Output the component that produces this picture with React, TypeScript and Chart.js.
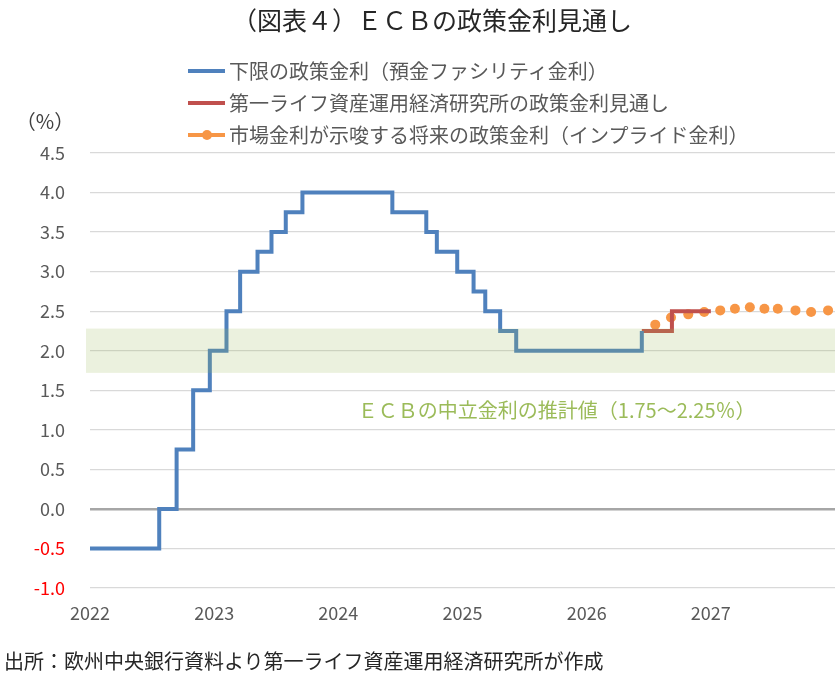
import React, { useEffect, useRef } from 'react';
import { Chart, registerables } from 'chart.js';

Chart.register(...registerables);

const FONT = "'Noto Sans CJK JP', 'Noto Sans', sans-serif";

const chartTitle = '（図表４）ＥＣＢの政策金利見通し';
const seriesNames = [
  '下限の政策金利（預金ファシリティ金利）',
  '第一ライフ資産運用経済研究所の政策金利見通し',
  '市場金利が示唆する将来の政策金利（インプライド金利）',
];
const seriesColors = ['#4F81BD', '#C0504D', '#F79646'];
const unitLabel = '（%）';
const sourceNote = '出所：欧州中央銀行資料より第一ライフ資産運用経済研究所が作成';
const yearLabels = ['2022', '2023', '2024', '2025', '2026', '2027'];

// x values: months elapsed since Jan 2022
const depositMonths = [0, 6.69, 8.37, 9.97, 11.58, 13.19, 14.51, 16.19, 17.54, 18.92, 20.53, 29.22, 32.5, 33.52, 35.49, 37.07, 38.2, 39.64, 41.19, 53.33];
const depositRates = [-0.5, 0, 0.75, 1.5, 2.0, 2.5, 3.0, 3.25, 3.5, 3.75, 4.0, 3.75, 3.5, 3.25, 3.0, 2.75, 2.5, 2.25, 2.0, 2.25];

const forecastMonths = [53.33, 56.24, 60.0];
const forecastRates = [2.25, 2.5, 2.5];

const impliedMonths = [54.63, 56.15, 57.82, 59.36, 60.91, 62.33, 63.77, 65.18, 66.47, 68.18, 69.69, 71.33];
const impliedRates = [2.33, 2.42, 2.46, 2.49, 2.51, 2.53, 2.55, 2.53, 2.53, 2.51, 2.49, 2.51];

const neutralLow = 1.72;
const neutralHigh = 2.28;
const neutralLabel = 'ＥＣＢの中立金利の推計値（1.75～2.25％）';
const neutralLabelMonth = 45.1;
const neutralLabelRate = 1.24;

const toPoints = (xs: number[], ys: number[]) => xs.map((x, i) => ({ x, y: ys[i] }));

const bandPlugin = {
  id: 'neutralBand',
  afterDatasetsDraw(chart: any) {
    const { ctx, chartArea, scales } = chart;
    const x = scales.x;
    const y = scales.y;
    const top = y.getPixelForValue(neutralHigh);
    const bot = y.getPixelForValue(neutralLow);
    ctx.save();
    ctx.fillStyle = 'rgba(155,187,89,0.2)';
    ctx.fillRect(chartArea.left - 4, top, chartArea.right - chartArea.left + 4, bot - top);
    ctx.fillStyle = '#9BBB59';
    ctx.font = `20px ${FONT}`;
    ctx.textAlign = 'center';
    ctx.textBaseline = 'middle';
    ctx.fillText(neutralLabel, x.getPixelForValue(neutralLabelMonth), y.getPixelForValue(neutralLabelRate));
    ctx.restore();
  },
};

export default function App() {
  const canvasRef = useRef<HTMLCanvasElement | null>(null);

  useEffect(() => {
    if (!canvasRef.current) return;
    const tickFont = { family: FONT, size: 18 };
    const chart = new Chart(canvasRef.current, {
      type: 'line',
      data: {
        datasets: [
          {
            label: seriesNames[0],
            data: toPoints(depositMonths, depositRates),
            borderColor: seriesColors[0],
            borderWidth: 4,
            stepped: 'before',
            pointRadius: 0,
            borderJoinStyle: 'miter',
            borderCapStyle: 'butt',
            fill: false,
          },
          {
            label: seriesNames[1],
            data: toPoints(forecastMonths, forecastRates),
            borderColor: seriesColors[1],
            borderWidth: 4,
            stepped: 'before',
            pointRadius: 0,
            borderJoinStyle: 'miter',
            borderCapStyle: 'butt',
            fill: false,
          },
          {
            label: seriesNames[2],
            data: toPoints(impliedMonths, impliedRates),
            showLine: false,
            pointRadius: 5,
            pointBackgroundColor: seriesColors[2],
            pointBorderWidth: 0,
            borderColor: seriesColors[2],
            backgroundColor: seriesColors[2],
          },
        ],
      },
      options: {
        animation: false,
        responsive: false,
        devicePixelRatio: 1,
        layout: { padding: { top: 153, right: 4, left: 0, bottom: 0 } },
        plugins: {
          legend: { display: false },
          tooltip: { enabled: false },
          title: { display: false },
        },
        scales: {
          x: {
            type: 'linear',
            min: 0,
            max: 72,
            border: { display: false },
            grid: { display: false, drawTicks: false },
            ticks: {
              stepSize: 12,
              padding: 14,
              autoSkip: false,
              maxRotation: 0,
              color: '#595959',
              font: tickFont,
              callback: (v: any) => yearLabels[Math.round(Number(v) / 12)] ?? '',
            },
            afterFit: (s: any) => {
              s.height = 85;
              s.paddingLeft = 0;
              s.paddingRight = 0;
            },
          },
          y: {
            min: -1,
            max: 4.5,
            border: { display: false },
            grid: {
              drawTicks: false,
              color: (c: any) => (c.tick && Math.abs(c.tick.value) < 1e-9 ? '#A6A6A6' : '#D9D9D9'),
              lineWidth: (c: any) => (c.tick && Math.abs(c.tick.value) < 1e-9 ? 2.5 : 1.3),
            },
            ticks: {
              stepSize: 0.5,
              padding: 25,
              color: (c: any) => (c.tick && c.tick.value < 0 ? '#FF0000' : '#595959'),
              font: tickFont,
              callback: (v: any) => Number(v).toFixed(1),
            },
            afterFit: (s: any) => {
              s.width = 90;
            },
          },
        },
      },
      plugins: [bandPlugin],
    } as any);
    return () => chart.destroy();
  }, []);

  const textBase: React.CSSProperties = {
    position: 'absolute',
    whiteSpace: 'nowrap',
    fontFamily: FONT,
    lineHeight: 1,
  };

  const legendRows = [70.5, 103, 135];

  return (
    <div style={{ position: 'absolute', left: 0, top: 0, width: 840, height: 673, background: '#fff' }}>
      <canvas ref={canvasRef} width={840} height={673} style={{ position: 'absolute', left: 0, top: 0 }} />
      <div style={{ ...textBase, left: 432, top: 19, transform: 'translate(-50%,-50%)', fontSize: 25, color: '#262626' }}>
        {chartTitle}
      </div>
      {seriesNames.map((name, i) => (
        <React.Fragment key={name}>
          <div
            style={{
              position: 'absolute',
              left: 188,
              top: legendRows[i] - 2,
              width: 37,
              height: 4,
              background: seriesColors[i],
            }}
          />
          {i === 2 && (
            <div
              style={{
                position: 'absolute',
                left: 207 - 5,
                top: legendRows[i] - 5,
                width: 10,
                height: 10,
                borderRadius: '50%',
                background: seriesColors[i],
              }}
            />
          )}
          <div style={{ ...textBase, left: 229, top: legendRows[i], transform: 'translateY(-50%)', fontSize: 20, color: '#595959' }}>
            {name}
          </div>
        </React.Fragment>
      ))}
      <div style={{ ...textBase, left: 45, top: 121, transform: 'translate(-50%,-50%)', fontSize: 20, color: '#404040' }}>
        {unitLabel}
      </div>
      <div style={{ ...textBase, left: 4, top: 661, transform: 'translateY(-50%)', fontSize: 20, color: '#262626' }}>
        {sourceNote}
      </div>
    </div>
  );
}
